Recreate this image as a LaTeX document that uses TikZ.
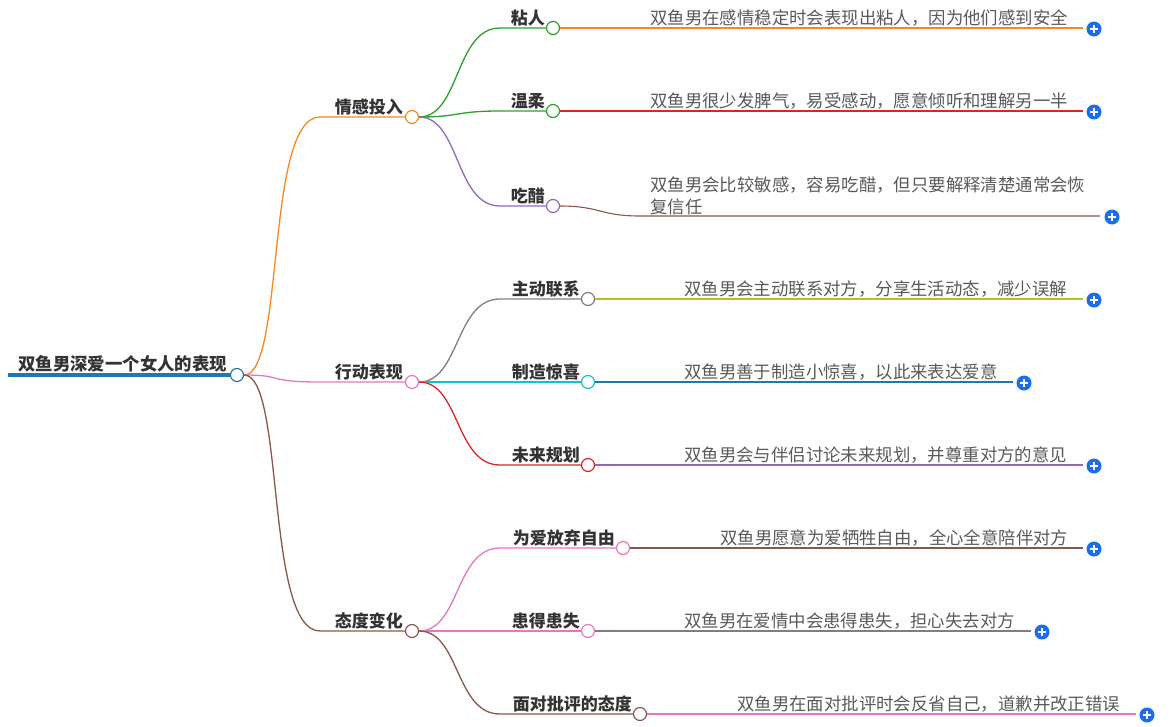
\documentclass[tikz,border=0pt]{standalone}
\usepackage{fontspec}
\setmainfont{Noto Sans CJK SC}
\begin{document}
\begin{tikzpicture}[x=1pt,y=-1pt,
  lab/.style={font=\fontsize{17}{19}\selectfont\bfseries,text=black!80,inner sep=0pt,anchor=base east},
  leaf/.style={font=\fontsize{17.4}{22}\selectfont,text=black!65,inner sep=0pt,anchor=base west,align=left},
  dot/.style={circle,draw=#1,fill=white,line width=1.2pt,minimum size=13pt,inner sep=0pt},
  plus/.style={circle,minimum size=15pt,inner sep=0pt,
    path picture={\draw[white,line width=1.4pt] ([xshift=-4pt]path picture bounding box.center)--([xshift=4pt]path picture bounding box.center) ([yshift=-4pt]path picture bounding box.center)--([yshift=4pt]path picture bounding box.center);}},
  ed/.style={line width=1.3pt,draw=#1}]
\definecolor{cor}{HTML}{F5891F}\definecolor{cpk}{HTML}{E377C2}\definecolor{cbr}{HTML}{8C564B}
\definecolor{cgr}{HTML}{2CA02C}\definecolor{cpu}{HTML}{9467BD}\definecolor{cgy}{HTML}{7F7F7F}
\definecolor{ccy}{HTML}{17BECF}\definecolor{crd}{HTML}{D62728}\definecolor{col}{HTML}{BCBD22}
\definecolor{cbl}{HTML}{1F77B4}\definecolor{cpl}{HTML}{1A6FE8}
\tikzset{plus/.append style={fill=cpl}}
\useasboundingbox (0,0) rectangle (1174,726);
\coordinate (rs) at (8,375);
\node[dot=cbl] (r) at (237,375) {};
\draw[line width=4pt,cbl] (rs) -- (r.west);
\node[font=\fontsize{17.4}{19}\selectfont\bfseries,text=black!80,inner sep=0pt,anchor=base west] (rt) at (18,370) {双鱼男深爱一个女人的表现};
% level 1
\foreach \n/\y/\c/\t in {a/117/cor/情感投入, b/382/cpk/行动表现, c/631/cbr/态度变化}{
  \node[dot=\c] (\n) at (412,\y) {};
  \node[lab] (\n t) at (403,\y-4) {\t};
  \draw[ed=\c] (r.east) .. controls (285,375) and (265,\y) .. (320,\y) -- (\n.west);
}
% level 2
\foreach \p/\py/\n/\x/\y/\c/\t in {a/117/a1/553/28/cgr/粘人, a/117/a2/553/111/cgr/温柔, a/117/a3/553/206/cpu/吃醋,
  b/382/b1/588/299/cgy/主动联系, b/382/b2/588/382/ccy/制造惊喜, b/382/b3/588/465/crd/未来规划,
  c/631/c1/623/548/cpk/为爱放弃自由, c/631/c2/588/631/cpk/患得患失, c/631/c3/640/714/cbr/面对批评的态度}{
  \node[dot=\c] (\n) at (\x,\y) {};
  \node[lab] (\n t) at (\x-8,\y-4) {\t};
  \draw[ed=\c] (\p.east) .. controls (460,\py) and (455,\y) .. (500,\y) -- (\n.west);
}
% leaves
\foreach \n/\y/\tx/\ex/\c/\t in {a1/28/650/1083/cor/双鱼男在感情稳定时会表现出粘人，因为他们感到安全,
  a2/111/650/1083/crd/双鱼男很少发脾气，易受感动，愿意倾听和理解另一半,
  b1/299/684/1083/col/双鱼男会主动联系对方，分享生活动态，减少误解,
  b2/382/684/1013/cbl/双鱼男善于制造小惊喜，以此来表达爱意,
  b3/465/684/1083/cpu/双鱼男会与伴侣讨论未来规划，并尊重对方的意见,
  c1/548/720/1083/cbr/双鱼男愿意为爱牺牲自由，全心全意陪伴对方,
  c2/631/684/1031/cgy/双鱼男在爱情中会患得患失，担心失去对方,
  c3/714/737/1136/cpk/双鱼男在面对批评时会反省自己，道歉并改正错误}{
  \node[leaf] (\n l) at (\tx,\y-4) {\t};
  \coordinate (\n e) at (\ex,\y);
  \draw[ed=\c,line width=1.1pt] (\n.east) -- (\n e);
  \node[plus] (\n p) at (\ex+11,\y+1) {};
}
\node[leaf] (a3l) at (650,213) {双鱼男会比较敏感，容易吃醋，但只要解释清楚通常会恢\\复信任};
\coordinate (a3e) at (1100,216);
\draw[ed=cbr,line width=1.1pt] (a3.east) .. controls (600,206) and (600,216) .. (640,216) -- (a3e);
\node[plus] (a3p) at (1112,217) {};
\end{tikzpicture}
\end{document}
